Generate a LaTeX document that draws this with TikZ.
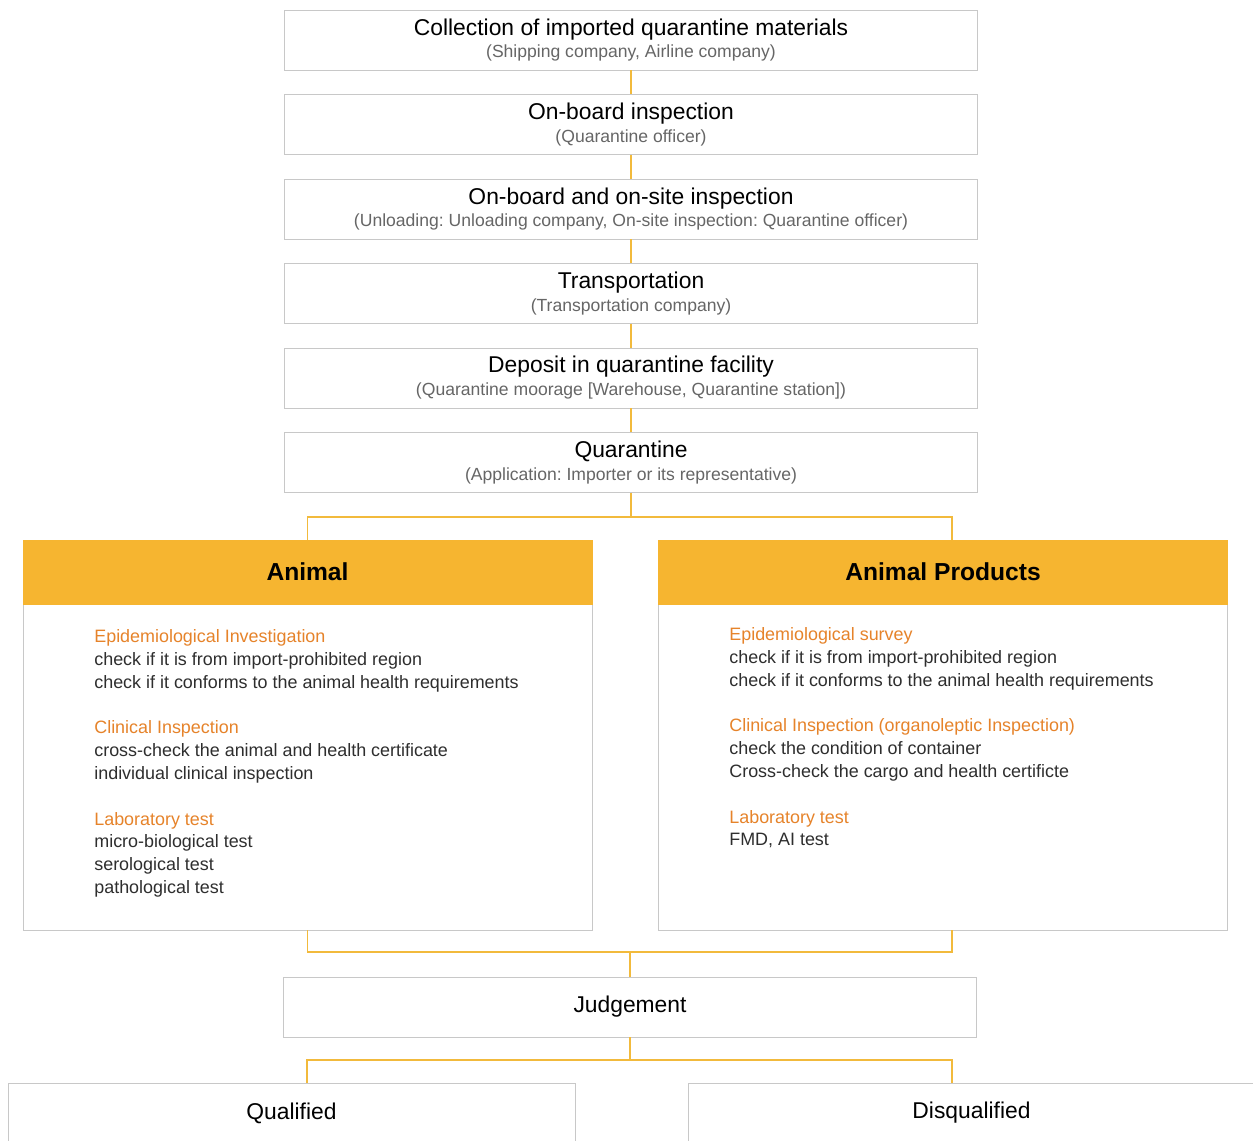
\documentclass[tikz,border=0pt]{standalone}
\usepackage{fontspec}
\setmainfont{Liberation Sans}
\frenchspacing
\usepackage{tikz}
\usetikzlibrary{shapes,arrows}
\definecolor{boxgray}{HTML}{C8C8C8}
\definecolor{subgray}{HTML}{666666}
\definecolor{bodytext}{HTML}{2E2E2E}
\definecolor{headorange}{HTML}{F6B530}
\definecolor{linegold}{HTML}{F2BA3C}
\definecolor{itemorange}{HTML}{E6832A}
\newcommand{\infoline}[1]{{\fontsize{10}{13}\selectfont\color{subgray}#1}}
\newcommand{\itemhead}[1]{{\color{itemorange}#1}}
\tikzstyle{stage} = [rectangle, draw=boxgray, fill=white, text centered, align=center,
minimum width=13.86cm, minimum height=1.2cm, inner sep=0pt, font=\fontsize{13}{13}\selectfont]
\tikzstyle{headbox} = [rectangle, draw=headorange, fill=headorange, text centered,
minimum width=11.38cm, minimum height=1.28cm, inner sep=0pt, font=\fontsize{14}{16}\selectfont\bfseries]
\tikzstyle{bodybox} = [rectangle, draw=boxgray, fill=white, minimum width=11.38cm, minimum height=6.52cm]
\tikzstyle{itemlist} = [anchor=north west, align=left, inner sep=0pt, text=bodytext, font=\fontsize{10.2}{13}\selectfont]
\tikzstyle{result} = [rectangle, draw=boxgray, fill=white, text centered,
minimum width=11.34cm, minimum height=1.2cm, font=\fontsize{13}{13}\selectfont]
\tikzstyle{line} = [draw, linegold, line width=1.1pt]

\begin{document}
\begin{tikzpicture}[x=0.02cm, y=-0.02cm, node distance=1.69cm, auto]
		\clip (0,0) rectangle (1253,1140);
		\fill[white] (0,0) rectangle (1253,1140);
		
		\node [stage] (collect) at (631,40) {Collection of imported quarantine materials\\ \infoline{(Shipping company, Airline company)}};
		\node [stage, below of=collect] (onboard) {On-board inspection\\ \infoline{(Quarantine officer)}};
		\node [stage, below of=onboard] (onsite) {On-board and on-site inspection\\ \infoline{(Unloading: Unloading company, On-site inspection: Quarantine officer)}};
		\node [stage, below of=onsite] (transport) {Transportation\\ \infoline{(Transportation company)}};
		\node [stage, below of=transport] (deposit) {Deposit in quarantine facility\\ \infoline{(Quarantine moorage [Warehouse, Quarantine station])}};
		\node [stage, below of=deposit] (quar) {Quarantine\\ \infoline{(Application: Importer or its representative)}};
		
		\node [bodybox] (anibody) at (307.5,767) {};
		\node [headbox] (anihead) at (307.5,572) {Animal};
		\node [bodybox] (prodbody) at (943,767) {};
		\node [headbox] (prodhead) at (943,572) {Animal Products};
		
		\node [itemlist] (anitext) at (94,629) {\itemhead{Epidemiological Investigation}\\
			check if it is from import-prohibited region\\
			check if it conforms to the animal health requirements\\[13pt]
			\itemhead{Clinical Inspection}\\
			cross-check the animal and health certificate\\
			individual clinical inspection\\[13pt]
			\itemhead{Laboratory test}\\
			micro-biological test\\
			serological test\\
			pathological test};
		\node [itemlist] (prodtext) at (729,627) {\itemhead{Epidemiological survey}\\
			check if it is from import-prohibited region\\
			check if it conforms to the animal health requirements\\[13pt]
			\itemhead{Clinical Inspection (organoleptic Inspection)}\\
			check the condition of container\\
			Cross-check the cargo and health certificte\\[13pt]
			\itemhead{Laboratory test}\\
			FMD, AI test};
		
		\node [stage] (judge) at (630,1007) {Judgement};
		\node [result] (qual) at (291.5,1113) {Qualified};
		\node [result] (disqual) at (971.5,1113) {Disqualified};
		
		\coordinate (split) at (631,517);
		\coordinate (join) at (630,952);
		\coordinate (verdict) at (630,1060);
		
		\path [line] (collect) -- (onboard);
		\path [line] (onboard) -- (onsite);
		\path [line] (onsite) -- (transport);
		\path [line] (transport) -- (deposit);
		\path [line] (deposit) -- (quar);
		
		\path [line] (quar.south) -- (split);
		\path [line] (split) -| (anihead.north);
		\path [line] (split) -| ([xshift=0.18cm]prodhead.north);
		
		\path [line] (anibody.south) |- (join);
		\path [line] ([xshift=0.18cm]prodbody.south) |- (join);
		\path [line] (join) -- (judge.north);
		
		\path [line] (judge.south) -- (verdict);
		\path [line] (verdict) -| ([xshift=0.31cm]qual.north);
		\path [line] (verdict) -| ([xshift=-0.39cm]disqual.north);
		\end{tikzpicture}
\end{document}
